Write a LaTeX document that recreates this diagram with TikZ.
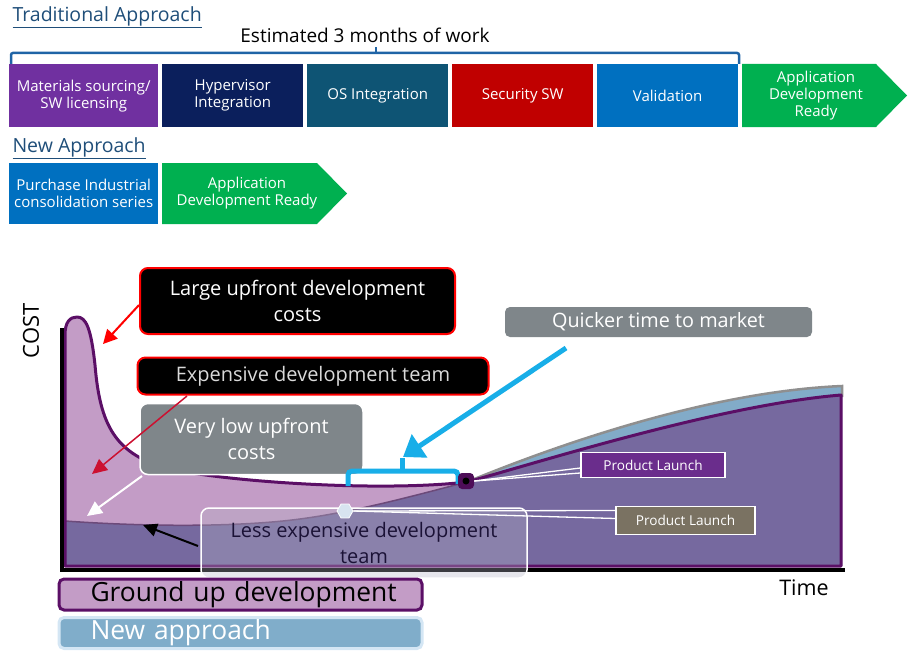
\documentclass[tikz,border=0pt]{standalone}
\usepackage{fontspec}
\setmainfont{Open Sans}
\usetikzlibrary{arrows.meta,shapes.geometric,calc}
\newcommand{\myfs}[2]{\fontsize{#1}{#2}\selectfont}
\definecolor{cPurple}{HTML}{7030A0}
\definecolor{cNavy}{HTML}{0B1F5C}
\definecolor{cTeal}{HTML}{0E5474}
\definecolor{cRedBox}{HTML}{C00000}
\definecolor{cBlue}{HTML}{0070C0}
\definecolor{cGreen}{HTML}{00B050}
\definecolor{cBracket}{HTML}{1F64A6}
\definecolor{cTitle}{HTML}{1F4E79}
\definecolor{cGU}{HTML}{C39CC6}
\definecolor{cGUline}{HTML}{5B0F66}
\definecolor{cMid}{HTML}{76699F}
\definecolor{cNA}{HTML}{82ABC8}
\definecolor{cNAline}{HTML}{8F8F8F}
\definecolor{cLeftLine}{HTML}{6C4A7A}
\definecolor{cGrayBox}{HTML}{7F868A}
\definecolor{cCyan}{HTML}{18AEE8}
\definecolor{cCrimson}{HTML}{CC1030}
\definecolor{cPL1}{HTML}{6A2D8C}
\definecolor{cPL2}{HTML}{7A7262}
\definecolor{cLess}{HTML}{B4B4C4}
\definecolor{cLessText}{HTML}{1B1236}
\definecolor{cMark}{HTML}{4E0D58}
\definecolor{cMark2}{HTML}{D8E4F0}
\definecolor{cNALeg}{HTML}{80ADCA}
\definecolor{cNABorder}{HTML}{D4E6F4}
\begin{document}
\begin{tikzpicture}[x=1pt,y=-1pt,
  stepbox/.style={inner sep=0pt, text=white, align=center, font=\myfs{15}{17}, anchor=north west, minimum height=63pt},
  callout/.style={rounded corners=8pt, align=center, inner sep=0pt, font=\myfs{20}{26}},
  plbox/.style={draw=white, line width=1.5pt, text=white, inner sep=0pt, font=\myfs{13.6}{15}},
  legendbox/.style={rounded corners=5pt, line width=3pt, minimum width=363pt, minimum height=31pt, text width=300pt, align=left, inner xsep=0pt, inner ysep=0pt, font=\myfs{26.4}{28}}
]
\useasboundingbox (0,0) rectangle (920,658);

% ---------- top section ----------
\node[anchor=west, text=cTitle, font=\myfs{19.5}{22}] (trad) at (9,17) {\underline{Traditional Approach}};
\node[font=\myfs{19}{22}] (est) at (365,35) {Estimated 3 months of work};
\draw[cBracket, line width=2.5pt, rounded corners=2pt] (11,64) -- (11,53) -- (739,53) -- (739,64);
\draw[cBracket, line width=2.5pt] (376,53) -- (376,47);

\node[stepbox, fill=cPurple, minimum width=149pt] (s1) at (9,64) {Materials sourcing/\\SW licensing};
\node[stepbox, fill=cNavy, minimum width=141pt] (s2) at (162,64) {Hypervisor\\Integration};
\node[stepbox, fill=cTeal, minimum width=141pt] (s3) at (307,64) {OS Integration};
\node[stepbox, fill=cRedBox, minimum width=141pt] (s4) at (452,64) {Security SW};
\node[stepbox, fill=cBlue, minimum width=141pt] (s5) at (597,64) {Validation};
\fill[cGreen] (742,64) -- (876,64) -- (907,95.5) -- (876,127) -- (742,127) -- cycle;
\node[text=white, align=center, font=\myfs{15}{17}] (s6) at (816,95.5) {Application\\Development\\Ready};

\node[anchor=west, text=cTitle, font=\myfs{19.5}{22}] (newa) at (9,148) {\underline{New Approach}};
\node[stepbox, fill=cBlue, minimum width=149pt, minimum height=61pt] (n1) at (9,163) {Purchase Industrial\\consolidation series};
\fill[cGreen] (162,163) -- (317,163) -- (347,193.5) -- (317,224) -- (162,224) -- cycle;
\node[text=white, align=center, font=\myfs{15}{17}] (n2) at (247,193) {Application\\Development Ready};

% ---------- chart areas ----------
% new approach fill
\fill[cNA] (65,521) .. controls (150,527) and (240,527) .. (300,519)
  .. controls (360,511) and (420,494) .. (467,482)
  .. controls (540,452) and (700,392) .. (842,386) -- (842,566) -- (65,566) -- cycle;
% ground up fill
\fill[cGU] (65,566) -- (65,335) .. controls (65,322) and (70,317) .. (77,317)
  .. controls (86,317) and (91,328) .. (95,365)
  .. controls (100,425) and (115,455) .. (170,469)
  .. controls (230,482) and (380,492) .. (467,482)
  .. controls (540,462) and (720,405) .. (841,395) -- (841,566) -- cycle;
% common (medium) region
\fill[cMid] (65,566) -- (65,521) .. controls (150,527) and (240,527) .. (300,519)
  .. controls (360,511) and (420,494) .. (467,482)
  .. controls (540,462) and (720,405) .. (841,395) -- (841,566) -- cycle;
% left boundary line
\draw[cLeftLine, line width=1.5pt] (65,521) .. controls (150,527) and (240,527) .. (300,519)
  .. controls (360,511) and (420,494) .. (467,482);
% new approach top line
\draw[cNAline, line width=2.5pt] (467,482) .. controls (540,452) and (700,392) .. (842,386) -- (842,397);
% ground up outline
\draw[cGUline, line width=3pt, line join=round] (65,566) -- (65,335) .. controls (65,322) and (70,317) .. (77,317)
  .. controls (86,317) and (91,328) .. (95,365)
  .. controls (100,425) and (115,455) .. (170,469)
  .. controls (230,482) and (380,492) .. (467,482)
  .. controls (540,462) and (720,405) .. (841,395) -- (841,566) -- cycle;
% axes
\draw[black, line width=4.5pt] (62,328) -- (62,570) -- (845,570);
\node[rotate=90, font=\myfs{22}{24}] (cost) at (31,331) {COST};
\node[font=\myfs{21.5}{24}] (time) at (804,588) {Time};

% ---------- callouts ----------
\node[callout, fill=black, draw=red, line width=2pt, text=white, minimum width=315pt, minimum height=66pt] (large) at (297.5,301) {Large upfront development\\costs};
\node[callout, fill=black, draw=red, line width=2pt, text=black!15, minimum width=351pt, minimum height=37pt] (expens) at (313,376) {Expensive development team};
\node[callout, fill=cGrayBox, draw=white, line width=1.5pt, text=white, minimum width=223pt, minimum height=71pt] (verylow) at (251.5,439) {Very low upfront\\costs};
\node[callout, fill=cGrayBox, text=white, rounded corners=5pt, minimum width=307pt, minimum height=30pt, font=\myfs{19.8}{22}] (quick) at (658.5,322) {Quicker time to market};
\node[callout, fill=cLess, fill opacity=0.33, text opacity=1, draw=white, line width=1.5pt, draw opacity=1, text=cLessText, minimum width=326pt, minimum height=70pt] (less) at (364,543) {Less expensive development\\team};

\coordinate (t1) at (103,344);
\coordinate (f2) at (187,396);
\coordinate (t2) at (92,474);
\coordinate (f3) at (142,476);
\coordinate (t3) at (87,516);
\coordinate (f4) at (198,546);
\coordinate (t4) at (143,525);
\draw[red, line width=2pt, -{Triangle[length=14pt,width=14pt]}] (large.west |- 0,305) -- (t1);
\draw[cCrimson, line width=1.5pt, -{Triangle[length=15pt,width=14pt]}] (f2) -- (t2);
\draw[white, line width=2pt, -{Triangle[length=15pt,width=14pt]}] (f3) -- (t3);
\draw[black, line width=2pt, -{Triangle[length=14pt,width=13pt]}] (f4) -- (t4);

% quicker time arrow and bracket
\coordinate (qs) at (566,348);
\coordinate (qt) at (403,457);
\draw[cCyan, line width=5pt, -{Triangle[length=20pt,width=27pt]}] (qs) -- (qt);
\draw[cCyan, line width=5pt, rounded corners=4pt] (348,486) -- (348,471) -- (458,471) -- (458,484);
\draw[cCyan, line width=5pt] (402,472) -- (402,458);

% product launch markers
\node[plbox, fill=cPL1, minimum width=144pt, minimum height=25pt] (pl1) at (653,465) {Product Launch};
\node[plbox, fill=cPL2, minimum width=139pt, minimum height=28pt] (pl2) at (685.5,520.5) {Product Launch};
\node[fill=cMark, rounded corners=4pt, minimum size=16pt, inner sep=0pt] (m1) at (466,481) {};
\fill[black] (m1.center) circle (3.5pt);
\node[regular polygon, regular polygon sides=6, fill=cMark2, draw=white, line width=0.8pt, minimum size=16pt, inner sep=0pt] (m2) at (345,511) {};
\draw[white, line width=1.3pt] (m1.east) -- ($(pl1.west)+(0,3)$);
\draw[white, line width=1.3pt] (m1.east) -- ($(pl1.west)+(0,8)$);
\draw[white, line width=1.3pt] (m2.east) -- ($(pl2.west)+(0,-10)$);
\draw[white, line width=1.3pt] (m2.east) -- ($(pl2.west)+(0,-2)$);

% ---------- legend ----------
\node[legendbox, fill=cGU, draw=cGUline, text=black] (lg1) at (240.5,594.5) {\mbox{Ground up development}};
\node[legendbox, fill=cNALeg, draw=cNABorder, text=white] (lg2) at (240.5,633) {\mbox{New approach}};
\end{tikzpicture}
\end{document}
